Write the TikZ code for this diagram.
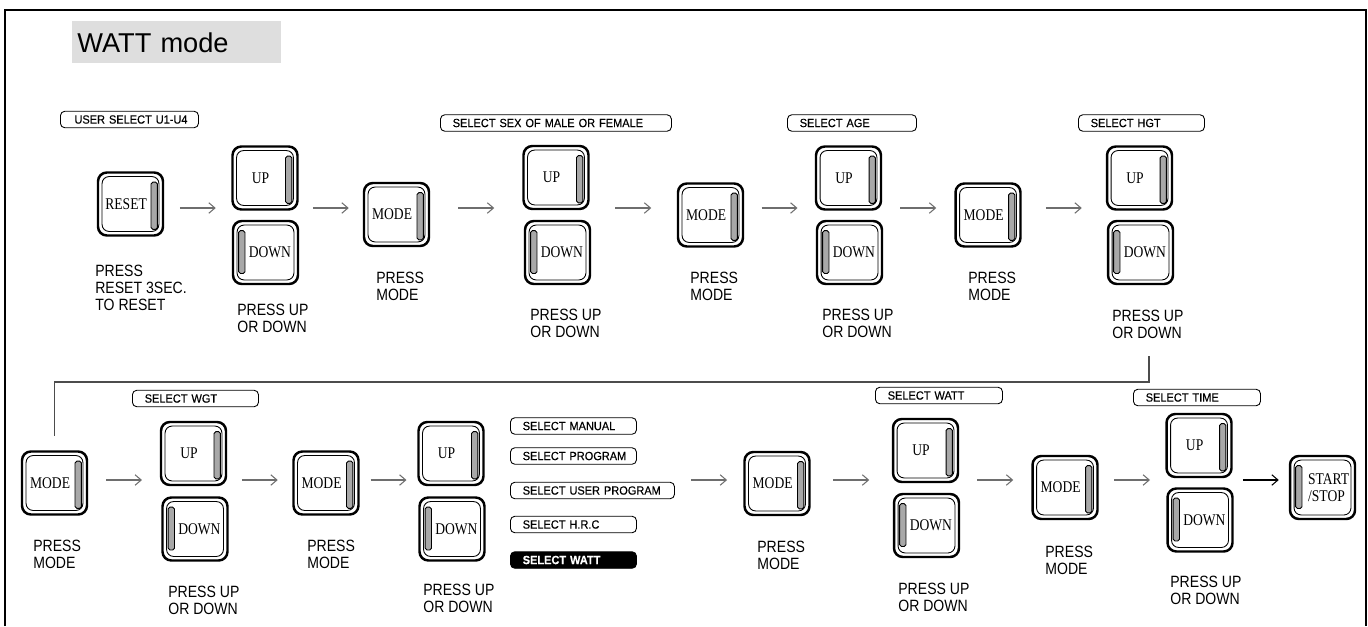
\documentclass[tikz,border=0pt]{standalone}
\usepackage{fontspec}
\setmainfont{Liberation Sans}
\newfontfamily\notefamily[FakeStretch=0.86]{Liberation Sans}
\newfontfamily\tagfamily[FakeStretch=0.92,FakeBold=0.4]{Liberation Sans}
\newfontfamily\btnfamily[FakeStretch=0.83]{Liberation Serif}
\newcommand{\notefont}{\notefamily\fontsize{9.3}{9.7}\selectfont}
\newcommand{\btnfont}{\btnfamily\fontsize{9.3}{9.7}\selectfont}
\newcommand{\tagfont}{\tagfamily\fontsize{6.8}{7}\selectfont}
\definecolor{KeyBar}{HTML}{A8A8A8}
\definecolor{ArrGrey}{HTML}{6E6E6E}
\definecolor{TitleGrey}{HTML}{DEDEDE}
\usetikzlibrary{calc,positioning,arrows.meta}
% arrow centred in the gap between two keys
\newcommand{\stepto}[4][]{%
  \draw[arr,#1] ($(#2.east |- #4)!0.5!(#3.west |- #4)$) ++(-18,0) -- ++(36,0);}

\begin{document}
\begin{tikzpicture}[
    x=0.02cm, y=-0.02cm,
    key/.style={
      draw, line width=1.4pt, rounded corners=5pt, fill=white,
      minimum width=1.3cm, minimum height=1.26cm, inner sep=0pt,
      font=\btnfont
    },
    keyR/.style={key, execute at end node=\hspace*{5pt}, path picture={
      \draw[line width=0.5pt, rounded corners=4pt]
        ([shift={(2.3pt,2.3pt)}]path picture bounding box.south west) rectangle
        ([shift={(-2.3pt,-2.3pt)}]path picture bounding box.north east);
      \draw[line width=0.5pt, fill=KeyBar, rounded corners=1pt]
        ([shift={(-6.8pt,-5.5pt)}]path picture bounding box.north east) rectangle
        ([shift={(-3.2pt,3.5pt)}]path picture bounding box.south east);
    }},
    keyL/.style={key, execute at begin node=\hspace*{5pt}, path picture={
      \draw[line width=0.5pt, rounded corners=4pt]
        ([shift={(2.3pt,2.3pt)}]path picture bounding box.south west) rectangle
        ([shift={(-2.3pt,-2.3pt)}]path picture bounding box.north east);
      \draw[line width=0.5pt, fill=KeyBar, rounded corners=1pt]
        ([shift={(3.2pt,-5.5pt)}]path picture bounding box.north west) rectangle
        ([shift={(6.8pt,6pt)}]path picture bounding box.south west);
    }},
    tag/.style={
      draw, line width=0.5pt, rounded corners=2.5pt, font=\tagfont,
      inner xsep=3pt, inner ysep=0pt, minimum height=0.33cm,
      text width=#1, align=left, anchor=west,
      execute at begin node=\hspace*{4pt}
    },
    tagon/.style={tag=#1, fill=black, text=white, font=\tagfont\bfseries},
    note/.style={font=\notefont, align=left, anchor=north west, inner sep=0pt},
    title/.style={
      anchor=north west, fill=TitleGrey, minimum width=4.18cm,
      minimum height=0.84cm, text width=3.98cm, inner xsep=0.1cm,
      inner ysep=0pt, align=left, font=\fontsize{15.5}{16}\selectfont
    },
    arr/.style={-{Straight Barb[length=3.5pt,width=6pt]}, line width=0.6pt, ArrGrey},
    link/.style={line width=0.6pt, gray!60!black}
  ]
    \useasboundingbox (0,0) rectangle (1368,626);
    \draw[line width=0.8pt] (5,626) -- (5,10) -- (1366,10) -- (1366,626);

    \node[title] (title) at (72,21) {WATT mode};

    \coordinate (row1) at (0,208);
    \coordinate (row2) at (0,480);

    % first row
    \node[tag=2.55cm, execute at begin node=\hspace*{1pt}] (tusr) at (60,119.5)
      {USER SELECT U1-U4};
    \node[tag=4.41cm] (tsex) at (440,123) {SELECT SEX OF MALE OR FEMALE};
    \node[tag=2.37cm] (tage) at (787,123) {SELECT AGE};
    \node[tag=2.31cm] (thgt) at (1078,123) {SELECT HGT};

    \node[keyR] (reset) at (130.5,204) {RESET};
    \node[keyR] (up1) at (265,178) {UP};
    \node[keyL] (down1) at (265.5,252.5) {DOWN};
    \node[keyR] (mode1) at (396.5,214.5) {MODE};
    \node[keyR] (up2) at (556,177.5) {UP};
    \node[keyL] (down2) at (557.5,252.5) {DOWN};
    \node[keyR] (mode2) at (710.5,215) {MODE};
    \node[keyR] (up3) at (848.5,178) {UP};
    \node[keyL] (down3) at (849.5,252.5) {DOWN};
    \node[keyR] (mode3) at (988,215) {MODE};
    \node[keyR] (up4) at (1139.5,178) {UP};
    \node[keyL] (down4) at (1140.5,252.5) {DOWN};

    \node[note] (pr0) at (95,265) {PRESS\\RESET 3SEC.\\TO RESET};
    \node[note] (pud1) at (237,304) {PRESS UP\\OR DOWN};
    \node[note] (pm1) at (376,272) {PRESS\\MODE};
    \node[note] (pud2) at (530,309) {PRESS UP\\OR DOWN};
    \node[note] (pm2) at (690,272) {PRESS\\MODE};
    \node[note] (pud3) at (822,309) {PRESS UP\\OR DOWN};
    \node[note] (pm3) at (968,272) {PRESS\\MODE};
    \node[note] (pud4) at (1112,310) {PRESS UP\\OR DOWN};

    \stepto{reset}{up1}{row1}
    \stepto{up1}{mode1}{row1}
    \stepto{mode1}{up2}{row1}
    \stepto{up2}{mode2}{row1}
    \stepto{mode2}{up3}{row1}
    \stepto{up3}{mode3}{row1}
    \stepto{mode3}{up4}{row1}

    % second row
    \node[tag=2.31cm] (twgt) at (132,398.5) {SELECT WGT};
    \node[tag=2.31cm] (tman) at (510,426) {SELECT MANUAL};
    \node[tag=2.31cm] (tprg) at (510,456) {SELECT PROGRAM};
    \node[tag=3.07cm] (tupr) at (510,490.5) {SELECT USER PROGRAM};
    \node[tag=2.31cm] (thrc) at (510,524.5) {SELECT H.R.C};
    \node[tagon=2.31cm] (twatt) at (510,560) {SELECT WATT};
    \node[tag=2.33cm] (tpow) at (875,395.5) {SELECT WATT};
    \node[tag=2.33cm] (ttime) at (1133,397.5) {SELECT TIME};

    \node[keyR] (mode4) at (54.5,483) {MODE};
    \node[keyR] (up5) at (193.5,453.5) {UP};
    \node[keyL] (down5) at (195,529) {DOWN};
    \node[keyR] (mode5) at (326,483) {MODE};
    \node[keyR] (up6) at (451,453.5) {UP};
    \node[keyL] (down6) at (452,529) {DOWN};
    \node[keyR] (mode6) at (777,483.5) {MODE};
    \node[keyR] (up7) at (925.5,450.5) {UP};
    \node[keyL] (down7) at (926.5,525.5) {DOWN};
    \node[keyR] (mode7) at (1065,487.5) {MODE};
    \node[keyR] (up8) at (1199,445.5) {UP};
    \node[keyL] (down8) at (1200,520) {DOWN};
    \node[keyL, execute at begin node={}, align=left] (start) at (1322.5,487.5)
      {\hspace*{2pt}START\\\hspace*{2pt}/STOP};

    \node[note] (pm4) at (33,540) {PRESS\\MODE};
    \node[note] (pud5) at (168,586) {PRESS UP\\OR DOWN};
    \node[note] (pm5) at (307,540) {PRESS\\MODE};
    \node[note] (pud6) at (423,584) {PRESS UP\\OR DOWN};
    \node[note] (pm6) at (757,541) {PRESS\\MODE};
    \node[note] (pud7) at (898,583) {PRESS UP\\OR DOWN};
    \node[note] (pm7) at (1045,546) {PRESS\\MODE};
    \node[note] (pud8) at (1170,576) {PRESS UP\\OR DOWN};

    \stepto{mode4}{up5}{row2}
    \stepto{up5}{mode5}{row2}
    \stepto{mode5}{up6}{row2}
    \stepto{tupr}{mode6}{row2}
    \stepto{mode6}{up7}{row2}
    \stepto{up7}{mode7}{row2}
    \stepto{mode7}{up8}{row2}
    \stepto[black]{up8}{start}{row2}

    % row change
    \coordinate (turn) at (1149,382);
    \draw[link] ([yshift=-0.34cm]pud4.south -| turn) -- (turn)
      -| ([yshift=0.28cm]mode4.north);
  \end{tikzpicture}
\end{document}
